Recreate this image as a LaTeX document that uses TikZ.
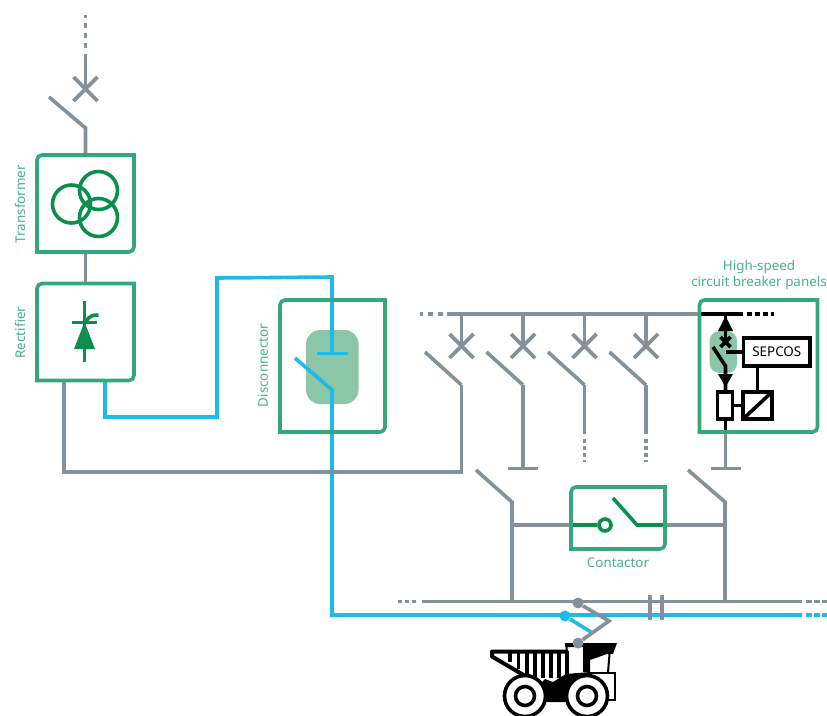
\documentclass[tikz,border=0pt]{standalone}
\usepackage{fontspec}
\setmainfont{Noto Sans}
\usetikzlibrary{
positioning,%
calc,%
arrows.meta
}
\definecolor{railgray}{HTML}{84919B}
\definecolor{railblue}{HTML}{1DBBEA}
\definecolor{framegreen}{HTML}{35A77B}
\definecolor{symbgreen}{HTML}{0B8F4C}
\definecolor{softgreen}{HTML}{8CC6A9}
\tikzset{
    wire/.style={draw=railgray, line width=3.6pt},
    feed/.style={draw=railblue, line width=3.6pt},
    ctrl/.style={draw=black, line width=3.6pt},
    symb/.style={draw=symbgreen, line width=3.6pt},
    cut/.style={dash pattern=on 5pt off 5pt},
    cutfine/.style={dash pattern=on 4pt off 3pt},
    panel/.style={inner sep=0pt, outer sep=0pt},
    frame/.style={draw=framegreen, line width=3.6pt},
    caption/.style={text=framegreen!90!white, font=\fontsize{13.4}{16}\selectfont, inner sep=0pt},
    relaybox/.style={draw=black, line width=3.6pt, fill=white, inner sep=0pt, outer sep=0pt},
    truck/.style={draw=black, line width=4pt},
    tip/.style={circle, inner sep=0pt, minimum size=11pt}
}
\newcommand{\panelframe}[1]{%
    \draw[frame] (#1.south west) -- ([yshift=-5pt]#1.north west)
        arc[start angle=180, end angle=90, radius=5pt] -- (#1.north east)
        -- ([yshift=5pt]#1.south east)
        arc[start angle=0, end angle=-90, radius=5pt] -- cycle;}
\newcommand{\breakercross}[2][wire]{%
    \draw[#1] ($(#2)+(-12,-12)$) -- ($(#2)+(12,12)$);
    \draw[#1] ($(#2)+(-12,12)$) -- ($(#2)+(12,-12)$);}
\begin{document}
\begin{tikzpicture}[x=1pt, y=-1pt, >=Latex]
    \useasboundingbox (0,0) rectangle (827,715);
    % panels
    \node[panel, minimum width=97pt, minimum height=97pt] (transformer) at (85.5,203.5) {};
    \node[panel, minimum width=97pt, minimum height=97pt] (rectifier) at (85.5,332) {};
    \node[panel, minimum width=105pt, minimum height=132pt] (disconnector) at (332.5,366) {};
    \node[panel, minimum width=118pt, minimum height=132pt] (hscb) at (758.5,366) {};
    \node[panel, minimum width=94pt, minimum height=62pt] (contactor) at (618,518) {};
    \node[draw=none, fill=softgreen, rounded corners=14pt, minimum width=52.5pt, minimum height=74pt, inner sep=0pt] (dispad) at (332.3,367) {};
    \node[draw=none, fill=softgreen, rounded corners=10pt, minimum width=27.5pt, minimum height=42pt, inner sep=0pt] (hscbpad) at (723.3,352) {};
    % captions
    \node[caption, rotate=90] (lbltrans) at (20,204) {Transformer};
    \node[caption, rotate=90] (lblrect) at (20,332.5) {Rectifier};
    \node[caption, rotate=90] (lbldisc) at (263,365.5) {Disconnector};
    \node[caption] (lblcont) at (618,563) {Contactor};
    \node[caption, align=center] (lblhscb) at (759,275) {High-speed\\circuit breaker panels};
    % incoming line
    \coordinate (topend) at (85.5,15);
    \coordinate (topcut) at (85.5,48);
    \coordinate (topsol) at (85.5,54);
    \coordinate (topx) at (85.5,89);
    \coordinate (topblade) at (49,97);
    \coordinate (tophinge) at (85.5,128);
    \draw[wire, cut] (topcut) -- (topend);
    \draw[wire] (topsol) -- (topx);
    \breakercross{topx}
    \draw[wire] (topblade) -- (tophinge) -- (transformer.north);
    \draw[wire] (transformer.south) -- (rectifier.north);
    % blue feed
    \coordinate (bl1) at (105,381);
    \coordinate (bl2) at (105,417);
    \coordinate (bl3) at (217,417);
    \coordinate (bl4) at (217,278);
    \coordinate (bl5) at (332,277);
    \coordinate (bl6) at (332,353.5);
    \coordinate (disleft) at (317,353.5);
    \coordinate (disright) at (347.5,353.5);
    \coordinate (disblade) at (295,358);
    \coordinate (dishinge) at (332,390);
    \coordinate (blbus) at (332,615);
    \coordinate (blend) at (802,615);
    \coordinate (blcut) at (806,615);
    \coordinate (blout) at (827,615);
    \draw[feed] (bl1) -- (bl2) -- (bl3) -- (bl4) -- (bl5) -- (bl6);
    \draw[feed] (disleft) -- (disright);
    \draw[feed] (disblade) -- (dishinge) -- (blbus) -- (blend);
    \draw[feed, dash pattern=on 6pt off 2pt] (blcut) -- (blout);
    % upper bus
    \coordinate (busl) at (447,314);
    \coordinate (buslcut) at (443,314);
    \coordinate (busout) at (420,314);
    \coordinate (busr) at (700,314);
    \draw[wire] (busl) -- (busr);
    \draw[wire, cut] (buslcut) -- (busout);
    \foreach \i/\x in {1/461.5,2/523,3/584.5,4/646}{
        \coordinate (bus\i) at (\x,314);
        \coordinate (brk\i) at (\x,346);
        \coordinate (hinge\i) at (\x,385);
        \coordinate (blade\i) at (\x-36.5,352);
        \draw[wire] (bus\i) -- (brk\i);
        \breakercross{brk\i}
        \draw[wire] (blade\i) -- (hinge\i);
    }
    % feeders below the breakers
    \coordinate (retl) at (64,381);
    \coordinate (retc) at (64,472);
    \coordinate (retr) at (461.5,472);
    \draw[wire] (retl) -- (retc) -- (retr) -- (hinge1);
    \coordinate (earth) at (523,468.5);
    \draw[wire] (hinge2) -- (earth);
    \draw[wire] (508,468.5) -- (538,468.5);
    \foreach \i/\x in {3/584.5,4/646}{
        \coordinate (stub\i) at (\x,434);
        \coordinate (stubcut\i) at (\x,438.5);
        \coordinate (stubend\i) at (\x,462);
        \draw[wire] (hinge\i) -- (stub\i);
        \draw[wire, cutfine] (stubcut\i) -- (stubend\i);
    }
    % contactor and its switches
    \coordinate (swl) at (476,470);
    \coordinate (swlh) at (512,502);
    \coordinate (swlb) at (512,601.5);
    \coordinate (swr) at (688,470);
    \coordinate (swrh) at (725,502);
    \coordinate (swrb) at (725,601.5);
    \coordinate (tiel) at (512,525);
    \coordinate (tier) at (725,525);
    \draw[wire] (swl) -- (swlh) -- (swlb);
    \draw[wire] (swr) -- (swrh) -- (swrb);
    \draw[wire] (tiel) -- (contactor.west |- tiel);
    \draw[wire] (contactor.east |- tier) -- (tier);
    \node[circle, draw=symbgreen, line width=3.6pt, inner sep=0pt, minimum size=12pt] (contring) at (605,525) {};
    \coordinate (contblade) at (613,498);
    \coordinate (conthinge) at (637,525);
    \draw[symb] (contactor.west |- contring) -- (contring);
    \draw[symb] (contblade) -- (conthinge) -- (contactor.east |- conthinge);
    % lower bus
    \coordinate (lowl) at (422,601.5);
    \coordinate (lowr) at (802,601.5);
    \draw[wire] (lowl) -- (lowr);
    \draw[wire, dash pattern=on 4pt off 3pt] (416,601.5) -- (398,601.5);
    \draw[wire, dash pattern=on 6pt off 2pt] (806,601.5) -- (827,601.5);
    \draw[wire] (650,595) -- (650,620);
    \draw[wire] (662,595) -- (662,620);
    % high-speed panel
    \coordinate (hsin) at (725.5,314);
    \coordinate (hsx) at (725.5,342);
    \coordinate (hsblade) at (713,347);
    \coordinate (hshinge) at (725.5,366);
    \node[relaybox, minimum width=66.5pt, minimum height=28pt] (sepcos) at (776.8,352) {\fontsize{13.4}{15}\selectfont SEPCOS};
    \node[relaybox, minimum width=15pt, minimum height=27pt] (coil) at (725,405.5) {};
    \node[relaybox, minimum width=29pt, minimum height=27pt] (relay) at (757.5,405.5) {};
    \draw[ctrl] (busr) -- (743,314);
    \draw[ctrl, dash pattern=on 4.5pt off 3.5pt] (747,314) -- (774,314);
    \draw[ctrl] (hsin) -- (hsx);
    \fill (725.5,316) -- (733,331) -- (718,331) -- cycle;
    \draw[ctrl] (720.5,337) -- (730.5,347);
    \draw[ctrl] (720.5,347) -- (730.5,337);
    \draw[ctrl] (hsblade) -- (hshinge) -- (coil.north -| hshinge);
    \fill (718,374) -- (733,374) -- (725.5,387) -- cycle;
    \draw[ctrl] (725.5,352) -- (sepcos.west);
    \draw[ctrl] (sepcos.south -| relay.north) -- (relay.north);
    \draw[ctrl] (coil.east) -- (relay.west);
    \draw[ctrl] (relay.south west) -- (relay.north east);
    \coordinate (hsout) at (725.5,432);
    \draw[ctrl] (coil.south -| hsout) -- (hsout);
    \coordinate (hsearth) at (725.5,468.5);
    \draw[wire] (hsout) -- (hsearth);
    \draw[wire] (711,468.5) -- (741,468.5);
    % frames on top
    \panelframe{transformer}
    \panelframe{rectifier}
    \panelframe{disconnector}
    \panelframe{hscb}
    \panelframe{contactor}
    % transformer and rectifier symbols
    \node[circle, draw=symbgreen, line width=3.6pt, inner sep=0pt, minimum size=38pt] (coila) at (71.5,204) {};
    \node[circle, draw=symbgreen, line width=3.6pt, inner sep=0pt, minimum size=38pt] (coilb) at (98.5,190.5) {};
    \node[circle, draw=symbgreen, line width=3.6pt, inner sep=0pt, minimum size=38pt] (coilc) at (98.5,217.5) {};
    \coordinate (thyup) at (84.5,301);
    \coordinate (thydown) at (84.5,362);
    \draw[symb] (thyup) -- (thydown);
    \draw[symb] (72,322.5) -- (97,322.5);
    \fill[symbgreen] (84.5,322) -- (95,349) -- (74,349) -- cycle;
    \draw[symb] (86,321) .. controls (90,316) and (92,315) .. (98.5,315);
    % truck
    \fill[black] (530,694) -- (545,679) -- (553,682) -- (566,674) -- (590,672) -- (590,702) -- (530,702) -- cycle;
    \draw[truck, line join=round] (568,651.5) -- (492,651.5) -- (492,656.5) -- (527,677);
    \foreach \x/\y in {510/662,518.5/669,527/674,535/678,543/678,551/678,559/678,567/678}
        \draw[truck, line width=3.5pt] (\x,651) -- (\x,\y);
    \fill[black] (565,643) -- (617,643) -- (613,654) -- (607,654) -- (590,660) -- (590,672) -- (583,672) -- (583,647) -- (565,647) -- cycle;
    \draw[line width=2pt] (566.5,645) -- (567,673);
    \draw[line width=2pt] (609.5,654) -- (608,672.5);
    \draw[line width=2pt] (588,672.5) -- (615,672.5) -- (615,700) -- (606,700);
    \foreach \n/\x in {lft/525,rgt/587}{
        \node[circle, draw=black, fill=white, line width=3.6pt, inner sep=0pt, minimum size=41pt] (wheel\n) at (\x,696) {};
        \node[circle, draw=black, fill=white, line width=3.6pt, inner sep=0pt, minimum size=19pt] (hub\n) at (\x,696) {};
    }
    % pantograph
    \node[tip, fill=railgray] (pangrid) at (578,603) {};
    \node[tip, fill=railgray] (panbase) at (578,643) {};
    \node[tip, fill=railblue] (panblue) at (565,616) {};
    \coordinate (panknee) at (609,621);
    \coordinate (panjoin) at (591,632);
    \draw[feed] (panblue) -- (panjoin);
    \draw[wire] (pangrid) -- (panknee) -- (panbase);
\end{tikzpicture}
\end{document}
